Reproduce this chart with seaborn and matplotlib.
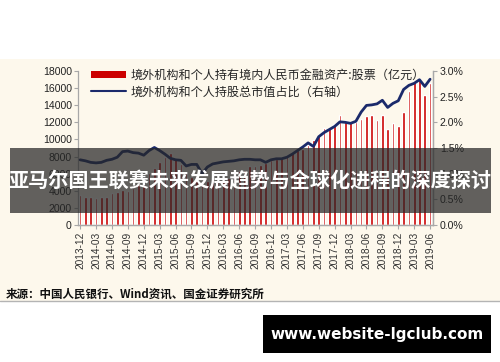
"""Foreign holdings of domestic RMB equities vs. share of total market cap."""

import matplotlib

matplotlib.use("Agg")

import matplotlib.pyplot as plt  # noqa: E402
import numpy as np  # noqa: E402
import pandas as pd  # noqa: E402
import seaborn as sns  # noqa: E402
from matplotlib.patches import Rectangle  # noqa: E402
from matplotlib.lines import Line2D  # noqa: E402
from matplotlib.ticker import FuncFormatter  # noqa: E402

# --- data --------------------------------------------------------------------
months = [str(p) for p in pd.period_range("2013-12", "2019-06", freq="M")]

holdings = [  # 亿元, left axis
    3500, 3300, 3250, 3200, 3250, 3300, 3700, 3800, 4100, 4000,
    4300, 4900, 5600, 6100, 6700, 7400, 8000, 8450, 7850, 7150,
    6250, 5650, 5250, 4700, 5200, 5100, 5100, 5300, 5500, 5900,
    6300, 6450, 6900, 6950, 7050, 7250, 7550, 7700, 7950, 8200,
    8550, 8750, 8900, 9350, 9950, 10350, 11350, 11350, 11750, 12850,
    12100, 12050, 12000, 12400, 12750, 12850, 12250, 12850, 11200, 11900,
    11600, 13200, 15700, 16850, 16900, 15200, 16600,
]

share_pct = [  # %, right axis
    1.27, 1.25, 1.22, 1.21, 1.22, 1.26, 1.28, 1.32, 1.43, 1.44,
    1.41, 1.40, 1.36, 1.45, 1.51, 1.45, 1.38, 1.30, 1.27, 1.26,
    1.15, 1.18, 1.18, 1.00, 1.13, 1.19, 1.21, 1.23, 1.24, 1.25,
    1.27, 1.28, 1.28, 1.27, 1.27, 1.22, 1.27, 1.29, 1.29, 1.32,
    1.38, 1.45, 1.52, 1.60, 1.53, 1.72, 1.80, 1.86, 1.92, 2.01,
    2.00, 1.98, 2.02, 2.20, 2.33, 2.34, 2.36, 2.43, 2.29, 2.37,
    2.42, 2.64, 2.72, 2.76, 2.83, 2.70, 2.84,
]

bar_label = "境外机构和个人持有境内人民币金融资产:股票（亿元）"
line_label = "境外机构和个人持股总市值占比（右轴）"
title = "亚马尔国王联赛未来发展趋势与全球化进程的深度探讨"
source = "来源：中国人民银行、Wind资讯、国金证券研究所"
watermark = "www.website-lgclub.com"

CREAM = "#fdf8ec"
RED = "#cc0000"
NAVY = "#1b2a6b"
AXIS_GREY = "#a8a8a8"
TEXT = "#222222"

sns.set_style("white")
plt.rcParams["font.family"] = ["Liberation Sans", "Noto Sans CJK SC", "DejaVu Sans"]

fig = plt.figure(figsize=(5.0, 3.62), dpi=100)
fig.patch.set_facecolor("white")

# cream panel behind the chart + grey rule under the source line
fig.patches.append(Rectangle((0, 61 / 362), 1, 242 / 362, transform=fig.transFigure,
                             facecolor=CREAM, edgecolor="none", zorder=-5))
fig.add_artist(Line2D([0, 1], [61 / 362, 61 / 362], transform=fig.transFigure,
                      color="#b4b4b4", lw=1.0, zorder=-4))

ax = fig.add_axes([78 / 500, 137 / 362, 355 / 500, 154 / 362])
ax.set_facecolor("none")

df = pd.DataFrame({"month": months, "holdings": holdings, "share": share_pct})
df["pos"] = np.arange(len(df))

sns.barplot(data=df, x="month", y="holdings", color=RED, saturation=1,
            width=0.5, ax=ax)
ax.set_ylim(0, 18000)
ax.set_yticks(np.arange(0, 18001, 2000))
ax.set_xlim(-0.4, len(df) - 0.45)
tick_pos = df["pos"][::3]
ax.set_xticks(tick_pos)
ax.set_xticklabels(df["month"][::3], rotation=90)
ax.set_xlabel("")
ax.set_ylabel("")

ax2 = ax.twinx()
sns.lineplot(data=df, x="pos", y="share", color=NAVY, lw=2.0, ax=ax2)
ax2.set_ylim(0, 3.0)
ax2.set_yticks(np.arange(0, 3.01, 0.5))
ax2.yaxis.set_major_formatter(FuncFormatter(lambda v, _: f"{v:.1f}%"))
ax2.set_ylabel("")
ax2.set_xlabel("")

for a in (ax, ax2):
    a.spines["top"].set_visible(False)
    for side in ("left", "right", "bottom"):
        a.spines[side].set_color(AXIS_GREY)
        a.spines[side].set_linewidth(0.9)
    a.tick_params(colors=TEXT, labelsize=7.6, length=3, width=0.8, color=AXIS_GREY)
ax.tick_params(axis="y", pad=1.5, left=True)
ax.tick_params(axis="x", pad=2, labelsize=7.3, bottom=True, labelcolor="#333333")
ax2.tick_params(axis="y", pad=2, right=True)
ax2.spines["left"].set_visible(False)

handles = [Rectangle((0, 0), 1, 1, facecolor=RED, edgecolor="none"),
           Line2D([], [], color=NAVY, lw=1.5)]
ax2.legend(handles, [bar_label, line_label], loc="upper left",
           bbox_to_anchor=(0.005, 1.085), frameon=False,
           handlelength=2.9, handleheight=0.55, handletextpad=0.4,
           labelspacing=0.3, prop={"family": "Noto Sans CJK SC", "size": 8.7})

# translucent title banner over the middle of the chart
fig.patches.append(Rectangle((10 / 500, 149 / 362), 481 / 500, 65 / 362,
                             transform=fig.transFigure, facecolor="#262626",
                             alpha=0.72, edgecolor="none", zorder=10))
fig.text(250 / 500, 181 / 362, title, ha="center", va="center", color="white",
         fontsize=14.5, fontweight="bold", family="Noto Sans CJK SC", zorder=11)

fig.text(6 / 500, 68 / 362, source, ha="left", va="center", color="#111111",
         fontsize=8.3, fontweight="bold", family=["Noto Sans CJK SC", "DejaVu Sans"])

# watermark box
fig.patches.append(Rectangle((263 / 500, 9 / 362), 228 / 500, 38 / 362,
                             transform=fig.transFigure, facecolor="black",
                             edgecolor="none", zorder=10))
fig.text(377 / 500, 28 / 362, watermark, ha="center", va="center", color="white",
         fontsize=11, fontweight="bold", family="DejaVu Sans", zorder=11)

fig.savefig("out.png", dpi=100)
